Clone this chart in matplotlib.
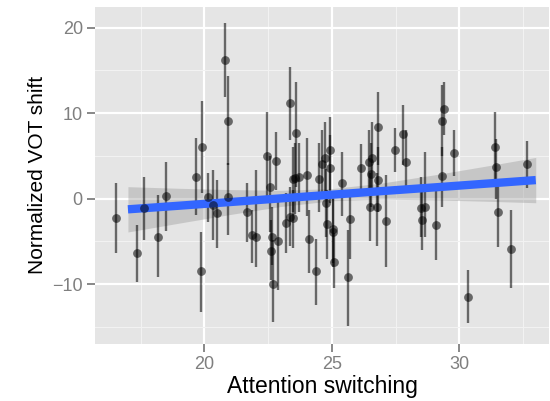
import matplotlib
matplotlib.use("Agg")
import matplotlib.pyplot as plt
import numpy as np

# ---- data ----
att_x = [16.53, 17.35, 17.62, 18.17, 18.48, 19.67, 19.92, 19.86, 20.13, 20.79,
         20.92, 20.93, 20.49, 20.35, 21.69, 21.86, 22.02, 22.45, 22.80, 22.58,
         22.61, 22.69, 22.65, 22.87, 23.34, 23.21, 23.36, 23.49, 23.60, 23.56,
         23.71, 23.49, 24.04, 24.11, 24.37, 24.48, 24.63, 24.74, 24.91, 24.91,
         24.77, 24.81, 25.03, 25.06, 25.10, 25.39, 25.72, 25.63, 26.14, 26.47,
         26.81, 26.57, 26.55, 26.83, 26.51, 26.77, 27.13, 27.46, 27.79, 27.91,
         28.51, 28.67, 28.54, 29.09, 29.41, 29.32, 29.32, 29.78, 30.33, 31.39,
         31.44, 31.52, 32.01, 32.66]
vot_y = [-2.29, -6.32, -1.10, -4.44, 0.35, 2.57, 6.08, -8.46, 0.23, 16.2,
         9.12, 0.20, -1.70, -0.70, -1.60, -4.25, -4.44, 5.00, 4.44, 1.40,
         -6.08, -9.98, -4.44, -4.90, 11.16, -2.80, -2.10, 2.27, 7.65, 2.40,
         2.57, -2.29, 2.77, -4.71, -8.46, 2.27, 4.06, 4.73, 5.70, 3.56,
         -0.54, -2.96, -3.58, -3.86, -7.37, 1.80, -2.40, -9.19, 3.56, 4.33,
         8.35, 4.73, 2.89, 2.19, -0.94, -0.94, -2.57, 5.70, 7.57, 4.33,
         -1.05, -0.94, -2.49, -3.08, 10.5, 9.09, 2.69, 5.31, -11.46, 6.08,
         3.74, -1.52, -5.85, 4.02]
vot_lo = [-6.32, -9.71, -4.83, -9.16, -3.74, -1.90, 0.67, -13.2, -2.70, 11.9,
          4.00, -4.20, -5.80, -4.80, -5.03, -7.50, -7.95, -0.20, 1.00, -3.90,
          -9.50, -14.4, -7.80, -10.7, 6.87, -6.30, -5.50, -1.50, 1.40, -1.80,
          -1.50, -5.80, -2.00, -8.70, -12.4, -1.50, 0.00, 0.50, 1.00, -0.50,
          -4.50, -7.00, -7.50, -8.00, -10.4, -2.00, -7.00, -14.9, 0.80, 0.50,
          4.00, 0.50, -1.00, -1.50, -5.00, -5.50, -7.95, 3.10, 4.00, 1.00,
          -4.50, -4.50, -6.00, -7.20, 7.40, 5.00, -1.00, 2.60, -14.5, 2.00,
          0.00, -5.60, -10.4, 1.20]
vot_hi = [1.80, -3.08, 2.57, 0.43, 4.33, 7.10, 11.43, -3.86, 3.00, 20.6,
          14.35, 4.20, 2.20, 3.40, 1.84, -1.30, 3.35, 10.2, 7.84, 5.00,
          -2.50, -4.83, -1.00, -0.20, 15.44, 0.70, 1.40, 6.00, 13.7, 6.50,
          6.50, 1.00, 7.10, -1.30, -4.70, 6.50, 8.00, 9.00, 9.60, 7.50,
          3.50, 1.00, 0.30, 0.00, -4.00, 5.50, 1.00, -3.66, 6.40, 8.00,
          12.5, 9.00, 6.50, 6.00, 3.00, 3.00, 2.77, 8.30, 11.0, 8.00,
          2.50, 5.50, 1.00, 1.40, 13.6, 13.3, 6.00, 8.00, -8.30, 10.2,
          7.00, 2.00, -1.30, 6.80]

# linear fit line and its confidence band
fit_x = [17.0, 19.0, 21.0, 23.0, 25.0, 27.0, 29.0, 31.0, 33.0]
fit_y = [-1.24, -0.82, -0.39, 0.04, 0.47, 0.90, 1.32, 1.75, 2.18]
band_lo = [-3.89, -2.86, -1.85, -0.91, -0.24, -0.05, -0.14, -0.29, -0.47]
band_hi = [1.41, 1.22, 1.07, 0.99, 1.18, 1.85, 2.78, 3.79, 4.83]

x_ticks = [20, 25, 30]
x_minor = [17.5, 22.5, 27.5, 32.5]
y_ticks = [-10, 0, 10, 20]
y_minor = [-15, -5, 5, 15]

# ---- figure ----
fig = plt.figure(figsize=(5.5, 4.01), dpi=100)
ax = fig.add_axes([95.3 / 550, 1 - 343.8 / 401, (549 - 95.3) / 550, (343.8 - 6.7) / 401])
ax.set_facecolor("#E5E5E5")
ax.set_xlim(15.72, 33.52)
ax.set_ylim(-16.97, 22.46)

ax.set_xticks(x_ticks)
ax.set_xticks(x_minor, minor=True)
ax.set_yticks(y_ticks)
ax.set_yticks(y_minor, minor=True)
ax.set_yticklabels(["\u221210", "0", "10", "20"])
ax.grid(which="major", color="white", linewidth=1.6)
ax.grid(which="minor", color="#F2F2F2", linewidth=0.8)
ax.set_axisbelow(True)
for s in ax.spines.values():
    s.set_visible(False)

font = "Liberation Sans"
ax.tick_params(axis="both", which="major", length=6, width=1.3, color="#7F7F7F",
               labelsize=13, labelcolor="#7F7F7F", pad=3)
ax.tick_params(axis="both", which="minor", length=0)
for lab in ax.get_xticklabels() + ax.get_yticklabels():
    lab.set_fontfamily(font)

ax.set_xlabel("Attention switching", fontsize=16.5, fontfamily=font, labelpad=1)
ax.set_ylabel("Normalized VOT shift", fontsize=15, fontfamily=font, labelpad=4)

# confidence band and fit line
ax.fill_between(fit_x, band_lo, band_hi, color="#999999", alpha=0.4, linewidth=0, zorder=2)
ax.plot(fit_x, fit_y, color="#3366FF", linewidth=6, solid_capstyle="butt", zorder=4)

# error bars and points
ax.vlines(att_x, vot_lo, vot_hi, color="black", alpha=0.55, linewidth=1.7, zorder=3)
ax.scatter(att_x, vot_y, s=40, color="black", alpha=0.55, linewidths=0, zorder=5)

fig.savefig("out.png", dpi=100, facecolor="white")
